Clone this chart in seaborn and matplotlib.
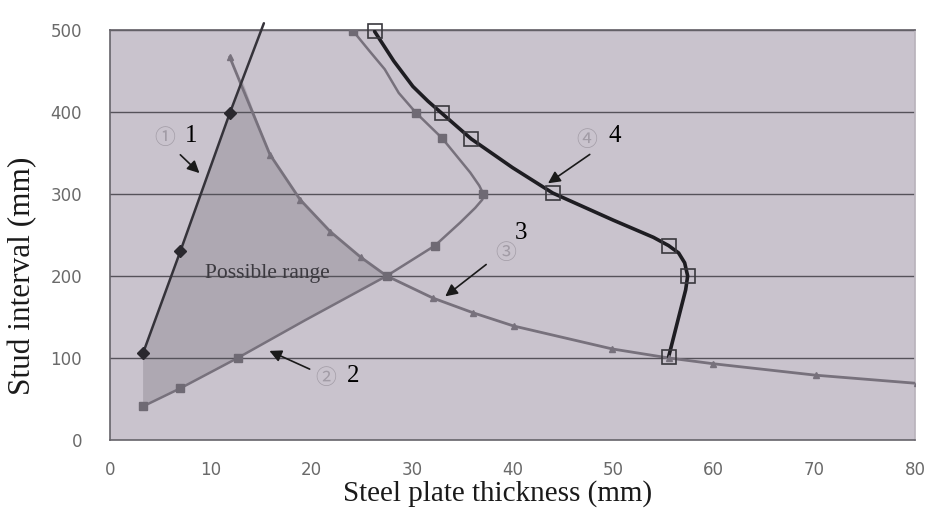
import numpy as np
import pandas as pd
import matplotlib
matplotlib.use("Agg")
import matplotlib.pyplot as plt
import seaborn as sns

# ---- data ----
# Curve 1 (diamonds)
c1_x = [3.3, 7.0, 11.9]
c1_y = [106, 230, 398]
c1_path_x = [3.3, 7.0, 11.9, 15.3]
c1_path_y = [106, 230, 398, 508]

# Curve 2 (filled squares)
c2_x = [3.3, 7.0, 12.7, 27.5, 32.3, 37.1, 33.0, 30.4, 24.2]
c2_y = [41, 63, 100, 200, 237, 300, 368, 399, 498]
c2_path_x = [3.3, 7.0, 12.7, 19.4, 27.5, 32.3, 34.8, 36.3, 37.0, 37.1, 36.7, 35.8, 34.6, 33.0, 30.4, 28.7, 27.3, 25.8, 24.2]
c2_path_y = [41, 63, 100, 146, 200, 237, 265, 283, 293, 300, 310, 326, 344, 368, 399, 423, 452, 474, 498]

# Curve 3 (triangles)
c3_x = [11.9, 15.9, 18.9, 21.9, 24.9, 27.5, 32.1, 36.1, 40.1, 49.9, 55.5, 59.9, 70.1, 80.2]
c3_y = [467, 348, 293, 254, 223, 200, 173, 155, 139, 111, 100, 93, 79, 69]

# Curve 4 (open squares)
c4_x = [26.3, 33.0, 35.9, 44.0, 55.5, 57.4, 55.5]
c4_y = [498, 398, 367, 301, 237, 200, 101]
c4_path_x = [26.3, 28.2, 30.1, 31.6, 33.0, 35.9, 40.0, 44.0, 50.0, 54.0, 55.5, 56.5, 57.1, 57.4, 57.2, 56.7, 56.1, 55.5]
c4_path_y = [498, 462, 431, 413, 398, 367, 332, 301, 268, 247, 237, 228, 216, 200, 183, 159, 130, 101]

# intersection of curve 1 and curve 3 (top of possible range)
top_x, top_y = 13.2, 437

x_ticks = [0, 10, 20, 30, 40, 50, 60, 70, 80]
y_ticks = [0, 100, 200, 300, 400, 500]

# ---- plotting ----
sns.set_theme(style="white")
plt.rcParams['font.family'] = ['DejaVu Sans', 'Noto Sans CJK JP']

fig = plt.figure(figsize=(9.31, 5.14), dpi=100)
ax = fig.add_axes([0.118, 0.144, 0.865, 0.798])
ax.set_facecolor('#c9c3cd')

# possible range polygon
poly_x = [c1_x[0]] + c1_x + [top_x] + [x for x in c3_x if top_x < x <= 27.5]
poly_y = [c2_y[0]] + c1_y + [top_y] + [y for x, y in zip(c3_x, c3_y) if top_x < x <= 27.5]
seg2 = [(x, y) for x, y in zip(c2_path_x, c2_path_y)][:5]
for x, y in reversed(seg2):
    poly_x.append(x)
    poly_y.append(y)
ax.fill(poly_x, poly_y, color='#aea8b2', lw=0, zorder=1)

for yv in y_ticks[1:]:
    ax.axhline(yv, color='#55525a', lw=1.0, zorder=2)

# curves
sns.lineplot(x=c3_x, y=c3_y, sort=False, estimator=None, ax=ax,
             color='#77717c', lw=2.0, zorder=3)
ax.plot(c3_x, c3_y, ls='none', marker='^', ms=5, color='#77717c', zorder=4)

sns.lineplot(x=c2_path_x, y=c2_path_y, sort=False, estimator=None, ax=ax,
             color='#77717c', lw=1.8, zorder=3)
ax.plot(c2_x, c2_y, ls='none', marker='s', ms=6, color='#6f6a74', zorder=4)

sns.lineplot(x=c1_path_x, y=c1_path_y, sort=False, estimator=None, ax=ax,
             color='#35333a', lw=1.8, zorder=3)
ax.lines[-1].set_clip_on(False)
ax.plot(c1_x, c1_y, ls='none', marker='D', ms=6, color='#2a282e', zorder=4)

sns.lineplot(x=c4_path_x, y=c4_path_y, sort=False, estimator=None, ax=ax,
             color='#1e1d22', lw=2.6, zorder=3)
ax.plot(c4_x, c4_y, ls='none', marker='s', ms=10, mfc='none', mec='#3a383e',
        mew=1.2, zorder=4, clip_on=False)

# annotations
circ_kw = dict(fontsize=15, color='#a29ca6', ha='center', va='center',
               family=['Noto Sans CJK JP', 'DejaVu Sans'], zorder=5)
num_kw = dict(fontsize=18, color='black', ha='center', va='center',
              family='Liberation Serif', zorder=5)
arr_kw = dict(arrowstyle='-|>,head_length=0.6,head_width=0.3', color='#1a1a1a', lw=1.2)

labels = [("\u2460", "1", (5.5, 368), (8.1, 370), (6.8, 350), (9.1, 323)),
          ("\u2461", "2", (21.4, 76), (24.2, 78), (20.1, 85), (15.6, 110)),
          ("\u2462", "3", (39.3, 228), (40.8, 252), (37.6, 216), (33.1, 173)),
          ("\u2463", "4", (47.4, 366), (50.2, 370), (47.9, 350), (43.3, 311))]
for circ, num, cpos, npos, tail, head in labels:
    ax.text(*cpos, circ, **circ_kw)
    ax.text(*npos, num, **num_kw)
    ax.annotate("", xy=head, xytext=tail, arrowprops=arr_kw, zorder=5)

ax.text(15.6, 203, "Possible range", fontsize=15.5, color='#3c3a40',
        family='Liberation Serif', ha='center', va='center', zorder=5)

ax.set_xlim(0, 80)
ax.set_ylim(0, 500)
ax.set_xticks(x_ticks)
ax.set_yticks(y_ticks)
ax.tick_params(axis='x', direction='in', length=6, width=1, color='#55525a',
               pad=15, labelsize=12, labelcolor='#6a6a6a')
ax.tick_params(axis='y', length=0, pad=20, labelsize=12, labelcolor='#6a6a6a')
for s in ['left', 'bottom']:
    ax.spines[s].set_color('#66636a')
    ax.spines[s].set_linewidth(1.2)
ax.spines['top'].set_color('#66636a')
ax.spines['right'].set_color('#b9b4bc')

ax.set_xlabel("Steel plate thickness (mm)", family='Liberation Serif',
              fontsize=21, color='#1a1a1a')
ax.set_ylabel("Stud interval (mm)", family='Liberation Serif',
              fontsize=22.5, color='#1a1a1a')
ax.xaxis.set_label_coords(0.481, -0.098)
ax.yaxis.set_label_coords(-0.090, 0.40)

fig.savefig("out.png", dpi=100)
